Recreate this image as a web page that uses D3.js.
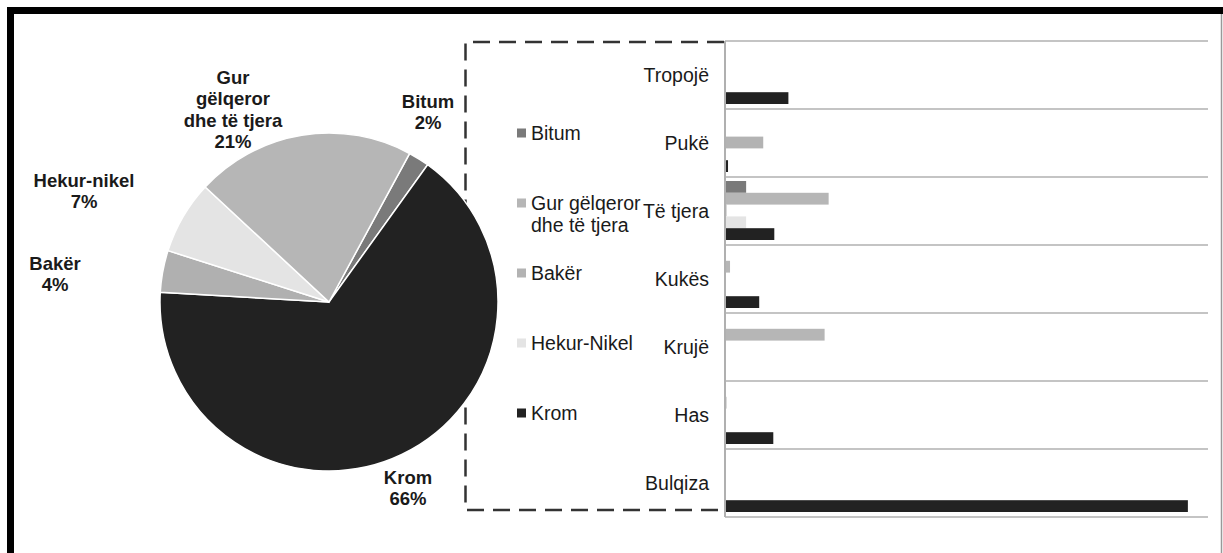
<!DOCTYPE html>
<html><head><meta charset="utf-8">
<script src="https://cdn.jsdelivr.net/npm/d3@7"></script>
<style>body{margin:0;background:#fff}svg{display:block}text{font-family:"Liberation Sans",Arial,sans-serif;fill:#1a1a1a}</style>
</head><body><svg id="c" width="1223" height="553"></svg>
<script>
// ---- data ----
const pieNames  = ["Bitum","Krom","Bakër","Hekur-nikel","Gur gëlqeror dhe të tjera"];
const pieValues = [2, 66, 4, 7, 21];
const pieLabelLines = [["Bitum","2%"],["Krom","66%"],["Bakër","4%"],["Hekur-nikel","7%"],["Gur","gëlqeror","dhe të tjera","21%"]];

const categories = ["Tropojë","Pukë","Të tjera","Kukës","Krujë","Has","Bulqiza"];
const series = ["Bitum","Gur gëlqeror dhe të tjera","Bakër","Hekur-Nikel","Krom"];
const legendLines = [["Bitum"],["Gur gëlqeror","dhe të tjera"],["Bakër"],["Hekur-Nikel"],["Krom"]];
const bitum  = [0, 0, 21, 0, 0, 0, 0];
const gur    = [0, 0, 103, 5, 99, 1.5, 0];
const baker  = [0, 38, 1.5, 0, 0, 0, 0];
const hekur  = [0, 0, 21, 0, 0, 0, 0];
const krom   = [63, 3, 49, 34, 0, 48, 460];

// ---- styles / layout ----
const pieColors = ["#7a7a7a","#222222","#b0b0b0","#e4e4e4","#b6b6b6"];
const barColors = ["#7a7a7a","#b6b6b6","#b3b3b3","#e4e4e4","#222222"];
const pieLabelPos = [[428,101],[408,477],[55,263],[84,180],[233,77]];

const svg = d3.select("#c");
svg.append("rect").attr("width",1223).attr("height",553).attr("fill","#fff");

// frame
svg.append("path").attr("d","M10.5,560 V10.5 H1230").attr("fill","none").attr("stroke","#000").attr("stroke-width",7);
svg.append("line").attr("x1",1221.5).attr("x2",1221.5).attr("y1",14).attr("y2",553).attr("stroke","#999").attr("stroke-width",1.5);

// dashed box
svg.append("path").attr("d","M724,42 H465.5 V510 H724").attr("fill","none")
  .attr("stroke","#333").attr("stroke-width",2.5).attr("stroke-dasharray","17 9");

// pie
const cx=329, cy=302, R=169;
const deg = Math.PI/180;
const pie = d3.pie().sort(null).value(d=>d).startAngle(28.5*deg).endAngle((28.5+360)*deg);
const arc = d3.arc().innerRadius(0).outerRadius(R);
const pg = svg.append("g").attr("transform",`translate(${cx},${cy})`);
pg.selectAll("path").data(pie(pieValues)).join("path")
  .attr("d",arc).attr("fill",(d,i)=>pieColors[i]).attr("stroke","#fff").attr("stroke-width",1.5);

// pie labels
pieLabelLines.forEach((lines,i)=>{
  const t = svg.append("text").attr("text-anchor","middle").attr("font-weight","bold").attr("font-size",18.5);
  lines.forEach((l,j)=>t.append("tspan").attr("x",pieLabelPos[i][0]).attr("y",pieLabelPos[i][1]+6.5+j*21.5).text(l));
});

// legend
const legY = [133, 203, 273, 343, 413];
legendLines.forEach((lines,i)=>{
  svg.append("rect").attr("x",517).attr("y",legY[i]-4.5).attr("width",9).attr("height",9).attr("fill",barColors[i]);
  const t = svg.append("text").attr("font-size",19.5);
  lines.forEach((l,j)=>t.append("tspan").attr("x",531).attr("y",legY[i]+7+j*22).text(l));
});

// bar chart
const x = d3.scaleLinear().domain([0,480]).range([725,1208]);
const y = d3.scaleBand().domain(categories).range([41,517]);
const ys = d3.scaleBand().domain(series).range([4, y.bandwidth()-5]);
const seriesVals = [bitum, gur, baker, hekur, krom];

// separators
const bounds = categories.map(c=>y(c)).concat([517]);
svg.selectAll("line.sep").data(bounds).join("line").attr("class","sep")
  .attr("x1",725).attr("x2",1208).attr("y1",d=>d).attr("y2",d=>d)
  .attr("stroke","#c4c4c4").attr("stroke-width",2);

seriesVals.forEach((vals,si)=>{
  svg.append("g").selectAll("rect").data(vals).join("rect")
    .attr("x",x(0)).attr("y",(d,i)=>y(categories[i])+ys(series[si]))
    .attr("width",d=>x(d)-x(0)).attr("height",ys.bandwidth())
    .attr("fill",barColors[si]);
});

// axis line
svg.append("line").attr("x1",725).attr("x2",725).attr("y1",41).attr("y2",517).attr("stroke","#b0b0b0").attr("stroke-width",2);

// category labels
svg.selectAll("text.cat").data(categories).join("text").attr("class","cat")
  .attr("x",709).attr("y",d=>y(d)+y.bandwidth()/2+7).attr("text-anchor","end")
  .attr("font-size",19.5).text(d=>d);
</script></body></html>
